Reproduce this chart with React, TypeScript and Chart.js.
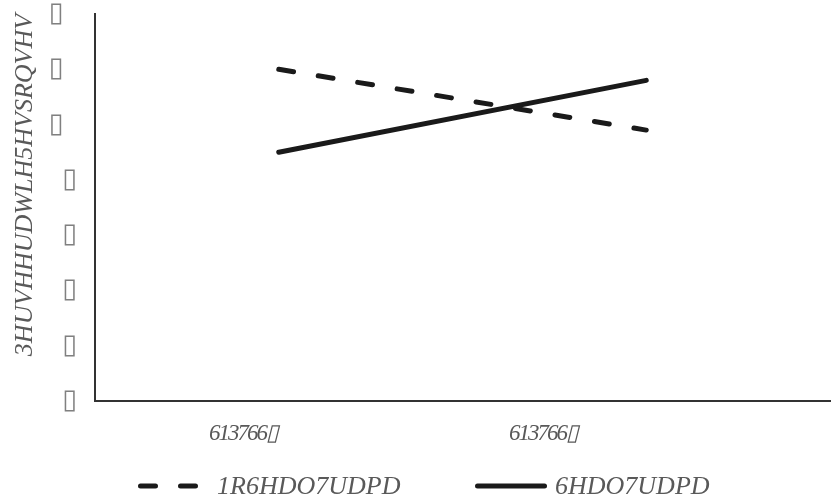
import React, { useEffect, useRef } from 'react';
import { Chart, registerables } from 'chart.js';

Chart.register(...registerables);

// ---- data ----
const categories = ['613766\u25AF', '613766\u25AF'];
const seriesNames = ['1R6HDO7UDPD', '6HDO7UDPD'];
const noSealTrauma = [12.0, 9.8];
const sealTrauma = [9.0, 11.6];
// tick labels for 0,2,4,...,14
const yTickLabels = ['\u25AF', '\u25AF', '\u25AF', '\u25AF', '\u25AF', '\u25AF\u2002', '\u25AF\u2002', '\u25AF\u2002'];
const yTitle = '3HUVHHUDWLH5HVSRQVHV';

const TEXT_COLOR = '#595959';
const LINE_COLOR = '#1a1a1a';
const AXIS_COLOR = '#333333';

// legend layout (style only)
const legendX = [138, 475];
const legendSample = [62, 72];
const legendGap = [17, 8];

const overlayPlugin = {
  id: 'overlay',
  afterDraw(chart: any) {
    const ctx = chart.ctx as CanvasRenderingContext2D;
    const area = chart.chartArea;
    ctx.save();
    ctx.fillStyle = TEXT_COLOR;

    // x category labels
    ctx.font = 'italic 23px "Liberation Serif", serif';
    (ctx as any).letterSpacing = '-2px';
    const fracs = [0.2014, 0.6095];
    ctx.textAlign = 'center';
    ctx.textBaseline = 'alphabetic';
    categories.forEach((c, i) => {
      ctx.fillText(c, area.left + fracs[i] * (area.right - area.left), 440);
    });
    (ctx as any).letterSpacing = '0px';

    // y title
    ctx.font = 'italic 26px "Liberation Serif", serif';
    ctx.save();
    ctx.translate(32, 185);
    ctx.rotate(-Math.PI / 2);
    ctx.textAlign = 'center';
    ctx.fillText(yTitle, 0, 0);
    ctx.restore();

    // legend
    ctx.font = 'italic 26px "Liberation Serif", serif';
    const ly = 486;
    chart.data.datasets.forEach((d: any, i: number) => {
      const x = legendX[i];
      const len = legendSample[i];
      ctx.save();
      ctx.strokeStyle = d.borderColor;
      ctx.lineWidth = d.borderWidth;
      ctx.lineCap = 'round';
      ctx.setLineDash(d.borderDash || []);
      ctx.beginPath();
      ctx.moveTo(x + 2.5, ly);
      ctx.lineTo(x + len - 2.5, ly);
      ctx.stroke();
      ctx.restore();
      ctx.textAlign = 'left';
      ctx.fillStyle = TEXT_COLOR;
      ctx.fillText(d.label, x + len + legendGap[i], 494);
    });
    ctx.restore();
  },
};

export default function App() {
  const ref = useRef<HTMLCanvasElement | null>(null);
  useEffect(() => {
    document.body.style.margin = '0';
    const canvas = ref.current!;
    const chart = new Chart(canvas, {
      type: 'line',
      data: {
        labels: categories,
        datasets: [
          {
            label: seriesNames[0],
            data: noSealTrauma,
            borderColor: LINE_COLOR,
            borderWidth: 5,
            borderDash: [15, 25],
            borderCapStyle: 'round',
            pointRadius: 0,
            fill: false,
            tension: 0,
          },
          {
            label: seriesNames[1],
            data: sealTrauma,
            borderColor: LINE_COLOR,
            borderWidth: 5,
            borderCapStyle: 'round',
            pointRadius: 0,
            fill: false,
            tension: 0,
          },
        ],
      },
      options: {
        animation: false,
        responsive: false,
        maintainAspectRatio: false,
        devicePixelRatio: 1,
        layout: { padding: { top: 14, right: 1, left: 0, bottom: 0 } },
        plugins: { legend: { display: false }, tooltip: { enabled: false }, title: { display: false } },
        scales: {
          x: {
            type: 'category',
            offset: true,
            grid: { display: false, drawTicks: false },
            border: { display: true, color: AXIS_COLOR, width: 2 },
            ticks: { display: false },
            afterFit: (s: any) => {
              s.height = 102;
              s.paddingLeft = 0;
              s.paddingRight = 0;
            },
          },
          y: {
            min: 0,
            max: 14,
            grid: { display: false, drawTicks: false },
            border: { display: true, color: AXIS_COLOR, width: 2 },
            ticks: {
              stepSize: 2,
              padding: 18,
              color: '#808080',
              font: { family: '"DejaVu Sans", sans-serif', size: 27 },
              callback: (_v: any, i: number) => yTickLabels[i],
            },
            afterFit: (s: any) => {
              s.width = 95;
              s.paddingTop = 0;
              s.paddingBottom = 0;
            },
          },
        },
      },
      plugins: [overlayPlugin],
    } as any);
    return () => chart.destroy();
  }, []);
  return <canvas ref={ref} width={831} height={503} style={{ display: 'block' }} />;
}
